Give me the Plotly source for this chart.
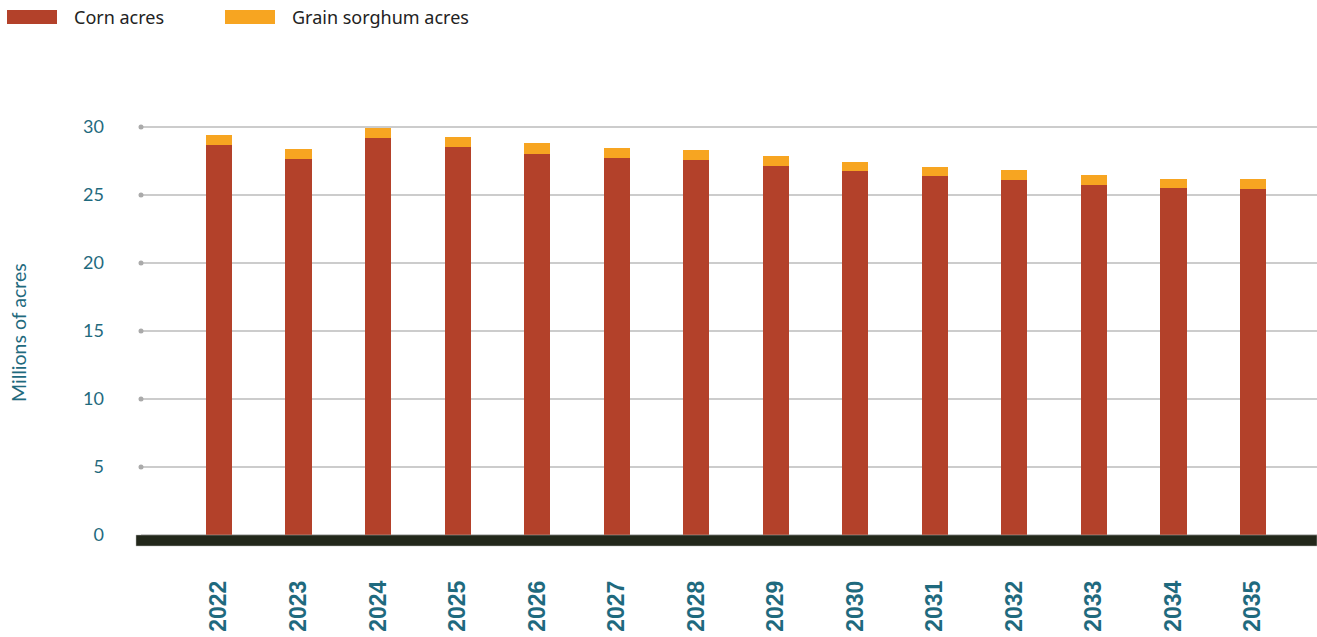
import plotly.graph_objects as go

years = ["2022", "2023", "2024", "2025", "2026", "2027", "2028",
         "2029", "2030", "2031", "2032", "2033", "2034", "2035"]
corn_acres = [28.70, 27.65, 29.20, 28.50, 28.00, 27.70, 27.55,
              27.10, 26.75, 26.40, 26.10, 25.75, 25.50, 25.45]
sorghum_acres = [0.75, 0.75, 0.75, 0.75, 0.80, 0.75, 0.75,
                 0.75, 0.65, 0.65, 0.75, 0.70, 0.65, 0.70]
y_ticks = [0, 5, 10, 15, 20, 25, 30]
y_title = "Millions of acres"
legend_names = ["Corn acres", "Grain sorghum acres"]

CORN = "#b3412a"
SORGHUM = "#f7a521"
TEAL = "#1f6a7e"

W, H = 1317, 637
L, R, T, B = 141, 0, 100, 91
PW, PH = W - L - R, H - T - B


def px(x):
    return (x - L) / PW


def py(y):
    return (H - B - y) / PH


fig = go.Figure()
fig.add_trace(go.Bar(x=years, y=corn_acres, name=legend_names[0],
                     marker=dict(color=CORN, line=dict(width=0)), width=0.33))
fig.add_trace(go.Bar(x=years, y=sorghum_acres, name=legend_names[1],
                     marker=dict(color=SORGHUM, line=dict(width=0)), width=0.33))

# gridline end dots
fig.add_trace(go.Scatter(x=[0] * (len(y_ticks) - 1), y=y_ticks[1:], xaxis="x2",
                         mode="markers", cliponaxis=False, showlegend=False,
                         hoverinfo="skip",
                         marker=dict(color="#aaaaaa", size=5)))

shapes = []
# baseline black bar
shapes.append(dict(type="rect", xref="paper", yref="paper",
                   x0=px(136), x1=1.0, y0=0, y1=py(535),
                   fillcolor="#22271a", line=dict(color="#bbbbbb", width=0.5),
                   layer="above"))
annotations = []
# custom legend
leg = [(7, 57, 72, legend_names[0], CORN), (225, 275, 290, legend_names[1], SORGHUM)]
for sx0, sx1, tx, name, col in leg:
    shapes.append(dict(type="rect", xref="paper", yref="paper",
                       x0=px(sx0), x1=px(sx1), y0=py(24), y1=py(10),
                       fillcolor=col, line=dict(width=0)))
    annotations.append(dict(text=name, xref="paper", yref="paper",
                            x=px(tx), y=py(17), xanchor="left", yanchor="middle",
                            showarrow=False,
                            font=dict(family="Noto Sans", size=18, color="#222222")))
annotations.append(dict(text=y_title, xref="paper", yref="paper",
                        x=px(18), y=py(333), textangle=-90,
                        xanchor="center", yanchor="middle", showarrow=False,
                        font=dict(family="Lato", size=19.5, color=TEAL)))

fig.update_layout(
    width=W, height=H,
    margin=dict(l=L, r=R, t=T, b=B),
    barmode="stack",
    showlegend=False,
    plot_bgcolor="white",
    paper_bgcolor="white",
    shapes=shapes,
    annotations=annotations,
    xaxis=dict(type="category", range=[-0.981, 13.805], showgrid=False,
               zeroline=False, showline=False, ticks="", tickangle=-90,
               ticklabelstandoff=29,
               tickfont=dict(family="Liberation Sans", size=23, color=TEAL,
                             weight="bold")),
    xaxis2=dict(overlaying="x", range=[0, 1], visible=False),
    yaxis=dict(range=[-0.81, 31.99], tickvals=y_ticks, showgrid=True,
               gridcolor="#cccccc", gridwidth=1.5, zeroline=False,
               showline=False, ticks="", ticklabelstandoff=36,
               tickfont=dict(family="Lato", size=18, color=TEAL)),
)

fig.write_html("out.html", config={"displayModeBar": False},
               post_script="document.body.style.margin='0';"
                           "document.body.style.overflow='hidden';")
